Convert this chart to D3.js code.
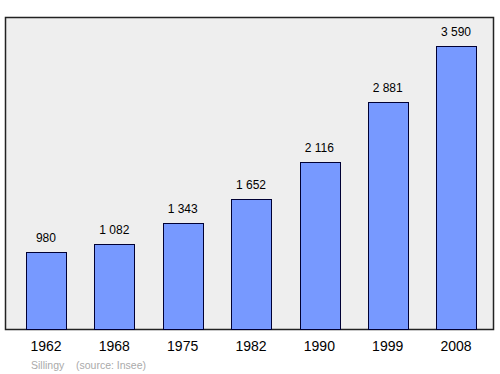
<!DOCTYPE html>
<html>
<head>
<meta charset="utf-8">
<script src="https://cdn.jsdelivr.net/npm/d3@7"></script>
<style>
  body { margin: 0; background: #fff; }
  svg text { font-family: "Liberation Sans", Arial, sans-serif; }
</style>
</head>
<body>
<div id="container"></div>
<script>
const years = ["1962", "1968", "1975", "1982", "1990", "1999", "2008"];
const population = [980, 1082, 1343, 1652, 2116, 2881, 3590];
const commune = "Sillingy";
const source = "(source: Insee)";

const width = 500;
const height = 374;
const frame = { left: 5.5, top: 17.5, right: 493.5, bottom: 329.5 };

const svg = d3.select("#container").append("svg")
    .attr("width", width)
    .attr("height", height);

const x = d3.scaleBand()
    .domain(years)
    .range([7, 495])
    .paddingInner(0.42)
    .paddingOuter(0.28);

const y = d3.scaleLinear()
    .domain([0, 3944])
    .range([frame.bottom, frame.top]);

// plot frame
svg.append("rect")
    .attr("x", frame.left)
    .attr("y", frame.top)
    .attr("width", frame.right - frame.left)
    .attr("height", frame.bottom - frame.top)
    .attr("fill", "#eeeeee")
    .attr("stroke", "#222")
    .attr("stroke-width", 1.5);

const data = years.map((yr, i) => ({ year: yr, value: population[i] }));

svg.selectAll("rect.bar")
    .data(data)
    .enter()
    .append("rect")
    .attr("class", "bar")
    .attr("x", d => Math.round(x(d.year)) + 0.5)
    .attr("y", d => Math.round(y(d.value)) + 0.5)
    .attr("width", Math.round(x.bandwidth()))
    .attr("height", d => frame.bottom - Math.round(y(d.value)) - 0.5)
    .attr("fill", "#7799ff")
    .attr("stroke", "#000033")
    .attr("stroke-width", 1);

const fmt = v => d3.format(",")(v).replace(/,/g, "\u00a0");

svg.selectAll("text.val")
    .data(data)
    .enter()
    .append("text")
    .attr("class", "val")
    .attr("x", d => x(d.year) + x.bandwidth() / 2)
    .attr("y", d => y(d.value) - 10)
    .attr("text-anchor", "middle")
    .attr("font-size", 12)
    .attr("fill", "#000")
    .text(d => fmt(d.value));

// year axis labels
const axis = d3.axisBottom(x).tickSize(0).tickPadding(12);
const gx = svg.append("g")
    .attr("transform", `translate(0,${frame.bottom})`)
    .call(axis);
gx.select(".domain").remove();
gx.selectAll("text")
    .attr("font-size", 14)
    .attr("font-family", "Liberation Sans, Arial, sans-serif")
    .attr("fill", "#000");

svg.append("text")
    .attr("x", 31)
    .attr("y", 369)
    .attr("font-size", 10.5)
    .attr("fill", "#aaaaaa")
    .text(commune);

svg.append("text")
    .attr("x", 76)
    .attr("y", 369)
    .attr("font-size", 10.5)
    .attr("fill", "#aaaaaa")
    .text(source);
</script>
</body>
</html>
